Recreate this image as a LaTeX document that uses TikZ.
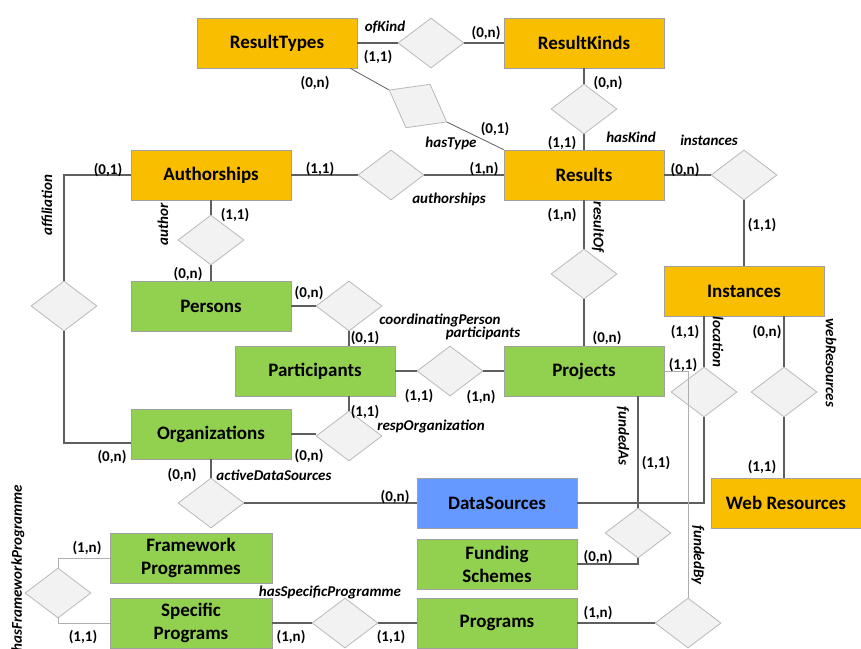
\documentclass[tikz,border=0pt]{standalone}
\usepackage{fontspec}
\setmainfont{Carlito}
\usetikzlibrary{shapes.geometric}

\definecolor{entorange}{RGB}{249,190,0}
\definecolor{entgreen}{RGB}{146,208,80}
\definecolor{entblue}{RGB}{102,153,255}
\definecolor{entborder}{RGB}{160,160,160}
\definecolor{relfill}{RGB}{242,242,242}
\definecolor{relborder}{RGB}{185,185,185}
\definecolor{linkgray}{RGB}{95,95,95}
\definecolor{linklight}{RGB}{175,175,175}

\tikzset{
  entity/.style={draw=entborder, line width=0.8pt, minimum width=160pt, minimum height=50pt,
    inner sep=0pt, align=center, font=\bfseries\fontsize{19}{23}\selectfont},
  orangebox/.style={entity, fill=entorange},
  greenbox/.style={entity, fill=entgreen},
  bluebox/.style={entity, fill=entblue},
  relship/.style={diamond, draw=relborder, fill=relfill, line width=0.8pt,
    minimum width=66pt, minimum height=50pt, inner sep=0pt},
  link/.style={draw=linkgray, line width=1.1pt},
  lightlink/.style={draw=linklight, line width=0.9pt},
  card/.style={inner sep=0pt, font=\bfseries\fontsize{15}{17}\selectfont},
  role/.style={inner sep=0pt, font=\bfseries\itshape\fontsize{15}{17}\selectfont},
}

\begin{document}
\begin{tikzpicture}[x=1pt,y=-1pt]
\useasboundingbox (0,0) rectangle (861,648);

% ---------- relationships ----------
\node[relship] (ofkind)   at (431,43)  {};
\node[relship, rotate=-29] (hastype) at (418,106) {};
\node[relship] (haskind)  at (584,109) {};
\node[relship] (authrel)  at (391,175) {};
\node[relship] (instrel)  at (744,175) {};
\node[relship] (authorrel) at (211,240) {};
\node[relship] (affil)    at (64,306)  {};
\node[relship] (resultof) at (584,274) {};
\node[relship] (coord)    at (349,306) {};
\node[relship] (partrel)  at (450,371) {};
\node[relship] (resporg)  at (349,436) {};
\node[relship] (location) at (704,392) {};
\node[relship] (webrel)   at (784,392) {};
\node[relship] (activeds) at (211,503) {};
\node[relship] (fundedas) at (638,533) {};
\node[relship] (hasfp)    at (58,593)  {};
\node[relship] (hassp)    at (345,623) {};
\node[relship] (fundedby) at (688,623) {};

% ---------- entities ----------
\node[orangebox] (rtypes)    at (277,43)  {ResultTypes};
\node[orangebox] (rkinds)    at (584,43)  {ResultKinds};
\node[orangebox] (authships) at (211,175) {Authorships};
\node[orangebox] (results)   at (584,175) {Results};
\node[orangebox] (instances) at (744,291) {Instances};
\node[greenbox]  (persons)   at (211,306) {Persons};
\node[greenbox]  (partic)    at (315,371) {Participants};
\node[greenbox]  (projects)  at (584,371) {Projects};
\node[greenbox]  (orgs)      at (211,434) {Organizations};
\node[bluebox]   (datasrc)   at (497,503) {DataSources};
\node[orangebox, minimum width=150pt] (webres) at (786,503) {Web Resources};
\node[greenbox, minimum width=162pt] (framework) at (191,558) {Framework\\Programmes};
\node[greenbox]  (funding)   at (497,564) {Funding\\Schemes};
\node[greenbox, minimum width=162pt] (specific) at (191,623) {Specific\\Programs};
\node[greenbox]  (programs)  at (497,623) {Programs};

% ---------- connectors ----------
\draw[link] (rtypes.east) -- (ofkind.west);
\draw[link] (ofkind.east) -- (rkinds.west);
\draw[link, line width=0.8pt] ([xshift=-7pt]rtypes.south east) -- (hastype.west);
\draw[link, line width=0.8pt] (hastype.east) -- (results.north west);
\draw[link] (rkinds.south) -- (haskind.north);
\draw[link] (haskind.south) -- (results.north);
\draw[link] (authships.east) -- (authrel.west);
\draw[link] (authrel.east) -- (results.west);
\draw[link] (results.east) -- (instrel.west);
\draw[link] (instrel.south) -- (instances.north);
\draw[link] (authships.south) -- (authorrel.north);
\draw[link] (authorrel.south) -- (persons.north);
\draw[link] (authships.west) -| (affil.north);
\draw[link] (affil.south) |- ([yshift=-9pt]orgs.west);
\draw[link] (results.south) -- (resultof.north);
\draw[link] (resultof.south) -- (projects.north);
\draw[link] (persons.east) -- (coord.west);
\draw[link] (coord.south) -- (coord.south |- partic.north);
\draw[link] (partic.east) -- (partrel.west);
\draw[link] (partrel.east) -- (projects.west);
\draw[link] (resporg.north |- partic.south) -- (resporg.north);
\draw[link] (orgs.east) -- ([yshift=2pt]resporg.west);
\draw[link] (orgs.south) -- (activeds.north);
\draw[link] (activeds.east) -- (datasrc.west);
\draw[link] (location.north |- instances.south) -- (location.north);
\draw[link] (webrel.north |- instances.south) -- (webrel.north);
\draw[link] (webrel.south) -- (webrel.south |- webres.north);
\draw[link] (datasrc.east) -| (location.south);
\draw[link] (fundedas.north |- projects.south) -- (fundedas.north);
\draw[link] (fundedas.south) |- (funding.east);
\draw[lightlink] (projects.east) -| (fundedby.north);
\draw[link] (programs.east) -- (fundedby.west);
\draw[lightlink] (framework.west) -| (hasfp.north);
\draw[lightlink] (hasfp.south) |- (specific.west);
\draw[link] (specific.east) -- (hassp.west);
\draw[link] (hassp.east) -- (programs.west);

% ---------- cardinalities ----------
\node[card] (k1)  at (378,57)  {(1,1)};
\node[card] (k2)  at (486,33)  {(0,n)};
\node[card] (k3)  at (315,83)  {(0,n)};
\node[card] (k4)  at (608,83)  {(0,n)};
\node[card] (k5)  at (495,129) {(0,1)};
\node[card] (k6)  at (562,143) {(1,1)};
\node[card] (k7)  at (685,170) {(0,n)};
\node[card] (k8)  at (484,169) {(1,n)};
\node[card] (k9)  at (320,169) {(1,1)};
\node[card] (k10) at (108,170) {(0,1)};
\node[card] (k11) at (235,215) {(1,1)};
\node[card] (k12) at (188,274) {(0,n)};
\node[card] (k13) at (309,293) {(0,n)};
\node[card] (k14) at (365,338) {(0,1)};
\node[card] (k15) at (419,396) {(1,1)};
\node[card] (k16) at (481,397) {(1,n)};
\node[card] (k17) at (365,412) {(1,1)};
\node[card] (k18) at (309,456) {(0,n)};
\node[card] (k19) at (112,457) {(0,n)};
\node[card] (k20) at (182,475) {(0,n)};
\node[card] (k21) at (395,497) {(0,n)};
\node[card] (k22) at (607,338) {(0,n)};
\node[card] (k23) at (562,215) {(1,n)};
\node[card] (k24) at (762,225) {(1,1)};
\node[card] (k25) at (685,332) {(1,1)};
\node[card] (k26) at (767,332) {(0,n)};
\node[card] (k27) at (683,365) {(1,1)};
\node[card] (k28) at (656,463) {(1,1)};
\node[card] (k29) at (762,467) {(1,1)};
\node[card] (k30) at (598,557) {(0,n)};
\node[card] (k31) at (598,613) {(1,n)};
\node[card] (k32) at (87,548)  {(1,n)};
\node[card] (k33) at (83,637)  {(1,1)};
\node[card] (k34) at (291,637) {(1,n)};
\node[card] (k35) at (391,637) {(1,1)};

% ---------- relationship names ----------
\node[role] (r1)  at (385,27)  {ofKind};
\node[role] (r2)  at (451,143) {hasType};
\node[role] (r3)  at (631,137) {hasKind};
\node[role] (r4)  at (709,140) {instances};
\node[role] (r5)  at (449,199) {authorships};
\node[role] (r6)  at (440,320) {coordinatingPerson};
\node[role] (r7)  at (483,333) {participants};
\node[role] (r8)  at (431,426) {respOrganization};
\node[role] (r9)  at (274,475) {activeDataSources};
\node[role] (r10) at (330,592) {hasSpecificProgramme};
\node[role, rotate=90]  (r11) at (47,205)  {affiliation};
\node[role, rotate=90]  (r12) at (163,224) {author};
\node[role, rotate=90]  (r13) at (18,568)  {hasFrameworkProgramme};
\node[role, rotate=-90] (r14) at (598,227) {resultOf};
\node[role, rotate=-90] (r15) at (718,342) {location};
\node[role, rotate=-90] (r16) at (831,363) {webResources};
\node[role, rotate=-90] (r17) at (623,436) {fundedAs};
\node[role, rotate=-90] (r18) at (698,555) {fundedBy};
\end{tikzpicture}
\end{document}
